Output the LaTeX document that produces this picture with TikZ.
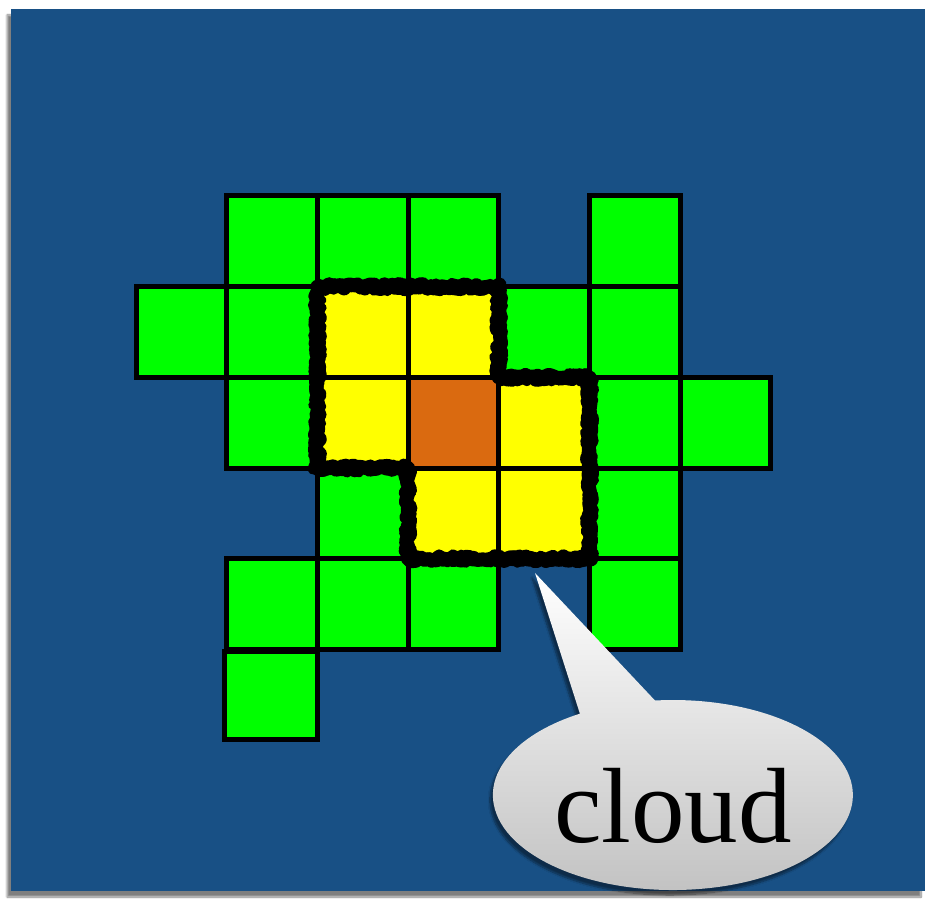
\documentclass[tikz,border=0pt]{standalone}
\usepackage{fontspec}
\setmainfont{Liberation Serif}
\usetikzlibrary{shadows.blur,decorations.pathmorphing}
\definecolor{bgblue}{RGB}{24,80,133}
\definecolor{cgreen}{RGB}{0,255,0}
\definecolor{cyellow}{RGB}{255,255,0}
\definecolor{corange}{RGB}{218,106,16}
\begin{document}
\begin{tikzpicture}[x=1pt,y=1pt,
  cell/.style={draw=black, line width=5pt, minimum width=90.7pt, minimum height=90.7pt, inner sep=0pt, outer sep=0pt},
  gcell/.style={cell, fill=cgreen},
  ycell/.style={cell, fill=cyellow},
  ocell/.style={cell, fill=corange},
  rough/.style={draw=black, line width=#1, line join=round, line cap=round,
    decorate, decoration={random steps, segment length=2.5pt, amplitude=2.5pt}},
  callout/.style={top color=white, bottom color=black!24, draw=none,
    blur shadow={shadow xshift=-3pt, shadow yshift=-5pt, shadow blur steps=10, shadow opacity=45}},
  lbl/.style={font=\fontsize{107}{120}\selectfont, inner sep=0pt, anchor=base west}
]
\useasboundingbox (0,0) rectangle (925,907);
% background panel
\node[fill=bgblue, minimum width=914pt, minimum height=882pt, inner sep=0pt, outer sep=0pt, anchor=south west,
  blur shadow={shadow xshift=-4pt, shadow yshift=-6pt, shadow blur steps=10, shadow opacity=50}] (bg) at (11,16) {};
% green cells
\foreach \r/\c in {0/1,0/2,0/3,0/5, 1/0,1/1,1/4,1/5, 2/1,2/5,2/6, 3/2,3/5, 4/1,4/2,4/3,4/5}
  \node[gcell] (g\r\c) at ({136+90.7*(\c+0.5)},{711-90.7*(\r+0.5)}) {};
\node[gcell, minimum width=93pt, minimum height=88pt] (g51) at (270.5,211) {};
% yellow cells
\foreach \r/\c in {1/2,1/3,2/2,2/4,3/3,3/4}
  \node[ycell] (y\r\c) at ({136+90.7*(\c+0.5)},{711-90.7*(\r+0.5)}) {};
% orange centre
\node[ocell] (o23) at ({136+90.7*3.5},{711-90.7*2.5}) {};
% rough outline around the yellow region
\pgfmathsetseed{7}
\draw[rough=14pt] (y12.north west) -- (y13.north east) -- (y13.south east) -- (y24.north east)
  -- (y34.south east) -- (y33.south west) -- (y33.north west) -- (y22.south west) -- cycle;
\pgfmathsetseed{19}
\draw[rough=9pt, decoration={random steps, segment length=2pt, amplitude=5pt}] (y12.north west) -- (y13.north east) -- (y13.south east) -- (y24.north east)
  -- (y34.south east) -- (y33.south west) -- (y33.north west) -- (y22.south west) -- cycle;
% callout
\path[callout] (580,193) coordinate (bl) -- (535,334) coordinate (tip) -- (655,206.5) coordinate (br)
  arc[start angle=95.7, end angle=-238.9, x radius=180pt, y radius=95pt] -- cycle;
\node[lbl] (lbltext) at (554,65) {cloud};
\end{tikzpicture}
\end{document}
